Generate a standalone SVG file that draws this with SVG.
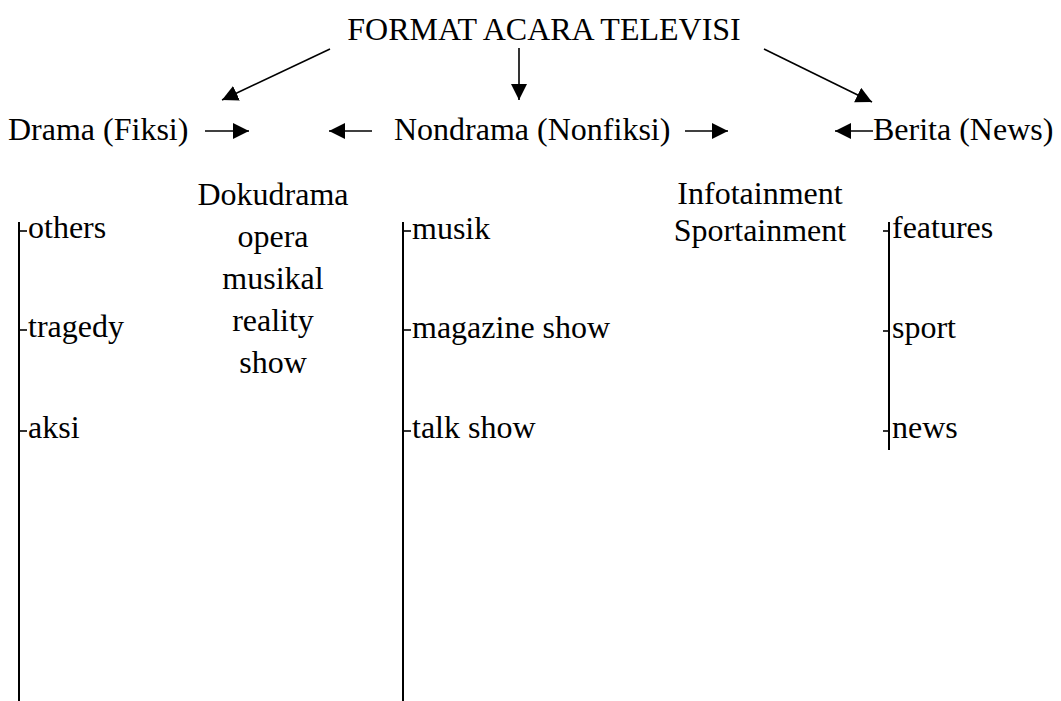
<svg xmlns="http://www.w3.org/2000/svg" width="1061" height="701" viewBox="0 0 1061 701">
<style>
text{font-family:"Liberation Serif","Times New Roman",serif;font-size:32px;fill:#000}
.c{text-anchor:middle}
.ln{stroke:#000;stroke-width:1.6;fill:none}
.vl{stroke:#000;stroke-width:2;fill:none}
</style>
<defs>
<marker id="ah" markerUnits="userSpaceOnUse" markerWidth="17" markerHeight="17" refX="16" refY="8" orient="auto">
<path d="M0,0 L16,8 L0,16 z" fill="#000"/>
</marker>
</defs>
<rect width="1061" height="701" fill="#fff"/>
<g id="connectors">
<line class="ln" x1="330" y1="49" x2="222" y2="100" marker-end="url(#ah)"/>
<line class="ln" x1="519" y1="48" x2="519" y2="100" marker-end="url(#ah)"/>
<line class="ln" x1="764" y1="49" x2="872" y2="102" marker-end="url(#ah)"/>
<line class="ln" x1="205" y1="131" x2="249" y2="131" marker-end="url(#ah)"/>
<line class="ln" x1="372" y1="131" x2="329" y2="131" marker-end="url(#ah)"/>
<line class="ln" x1="685" y1="131" x2="728" y2="131" marker-end="url(#ah)"/>
<line class="ln" x1="873" y1="131" x2="835" y2="131" marker-end="url(#ah)"/>
</g>
<g id="title"><text class="c" x="544" y="40">FORMAT ACARA TELEVISI</text></g>
<g id="drama"><text x="8" y="140">Drama (Fiksi)</text></g>
<g id="nondrama"><text x="394" y="140">Nondrama (Nonfiksi)</text></g>
<g id="berita"><text x="873" y="140">Berita (News)</text></g>
<g id="dokudrama">
<text class="c" x="273" y="205">Dokudrama</text>
<text class="c" x="273" y="247">opera</text>
<text class="c" x="273" y="289">musikal</text>
<text class="c" x="273" y="331">reality</text>
<text class="c" x="273" y="373">show</text>
</g>
<g id="infotainment">
<text class="c" x="760" y="204">Infotainment</text>
<text class="c" x="760" y="241">Sportainment</text>
</g>
<g id="drama-list">
<line class="vl" x1="19" y1="222" x2="19" y2="701"/>
<line class="ln" x1="19" y1="231" x2="27" y2="231"/>
<line class="ln" x1="19" y1="330" x2="27" y2="330"/>
<line class="ln" x1="19" y1="431" x2="27" y2="431"/>
<text x="28" y="238">others</text>
<text x="28" y="337">tragedy</text>
<text x="28" y="438">aksi</text>
</g>
<g id="nondrama-list">
<line class="vl" x1="403" y1="222" x2="403" y2="701"/>
<line class="ln" x1="403" y1="231" x2="411" y2="231"/>
<line class="ln" x1="403" y1="330" x2="411" y2="330"/>
<line class="ln" x1="403" y1="431" x2="411" y2="431"/>
<text x="412" y="239">musik</text>
<text x="412" y="338">magazine show</text>
<text x="412" y="438">talk show</text>
</g>
<g id="berita-list">
<line class="vl" x1="889" y1="222" x2="889" y2="450"/>
<line class="ln" x1="883" y1="231" x2="889" y2="231"/>
<line class="ln" x1="883" y1="331" x2="889" y2="331"/>
<line class="ln" x1="883" y1="431" x2="889" y2="431"/>
<text x="892" y="238">features</text>
<text x="892" y="338">sport</text>
<text x="892" y="438">news</text>
</g>
</svg>
